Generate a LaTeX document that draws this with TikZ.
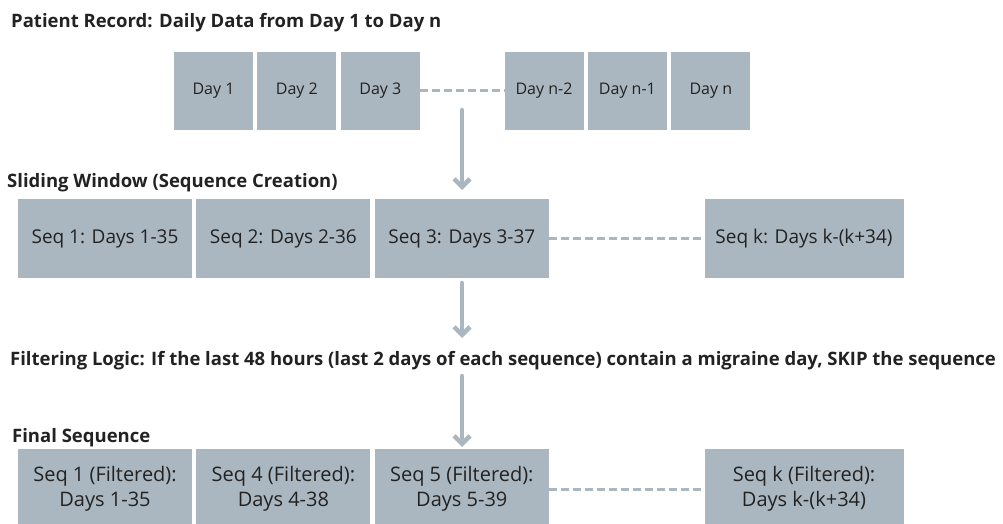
\documentclass[tikz,border=0pt]{standalone}
\usepackage{fontspec}
\setmainfont{Open Sans}
\newfontfamily\boxfont{Open Sans}
\usetikzlibrary{arrows.meta,positioning}

\definecolor{slate}{HTML}{ABB7C0}
\definecolor{ink}{HTML}{222222}

\tikzset{
  daybox/.style={fill=slate, minimum width=79pt, minimum height=78pt, inner sep=0pt,
    text=ink, font=\boxfont\fontsize{16}{19}\selectfont},
  seqbox/.style={daybox, minimum width=174pt, minimum height=79pt,
    font=\boxfont\fontsize{19}{23}\selectfont},
  finbox/.style={seqbox, minimum height=80pt, align=center,
    font=\boxfont\fontsize{20}{25}\selectfont},
  heading/.style={anchor=base west, inner sep=0pt, text=ink,
    font=\bfseries\fontsize{18.5}{22}\selectfont},
  gap/.style={slate, line width=3pt, dash pattern=on 8pt off 4pt},
  flow/.style={slate, line width=4.5pt, line cap=round, line join=round,
    -{Straight Barb[length=8pt,width=16pt]}}
}

\begin{document}
\begin{tikzpicture}[x=1pt, y=-1pt]
    \useasboundingbox (0,0) rectangle (1003,524);

    % patient record
    \node[heading] (title1) at (11,28) {Patient Record: Daily Data from Day 1 to Day n};
    \node[daybox] (d1) at (213.5,91) {Day 1};
    \node[daybox, right=4pt of d1] (d2) {Day 2};
    \node[daybox, right=4pt of d2] (d3) {Day 3};
    \node[daybox] (dn2) at (544,91) {Day n-2};
    \node[daybox, right=4pt of dn2] (dn1) {Day n-1};
    \node[daybox, right=4pt of dn1] (dn) {Day n};
    \draw[gap] (d3.east) -- (dn2.west);

    % sliding window
    \node[heading] (title2) at (7,187) {Sliding Window (Sequence Creation)};
    \node[seqbox] (s1) at (105,238.5) {Seq 1: Days 1-35};
    \node[seqbox, right=4pt of s1] (s2) {Seq 2: Days 2-36};
    \node[seqbox, right=4pt of s2] (s3) {Seq 3: Days 3-37};
    \node[seqbox, minimum width=199pt] (sk) at (804,238.5) {Seq k: Days k-(k+34)};
    \draw[gap] (s3.east) -- (sk.west);

    % filtering
    \node[heading] (filt) at (10,365) {Filtering Logic: If the last 48 hours (last 2 days of each sequence) contain a migraine day, SKIP the sequence};

    % final sequence
    \node[heading] (title3) at (12,442) {Final Sequence};
    \node[finbox] (f1) at (105,489) {Seq 1 (Filtered):\\Days 1-35};
    \node[finbox, right=4pt of f1] (f2) {Seq 4 (Filtered):\\Days 4-38};
    \node[finbox, right=4pt of f2] (f3) {Seq 5 (Filtered):\\Days 5-39};
    \node[finbox, minimum width=199pt] (fk) at (804,489) {Seq k (Filtered):\\Days k-(k+34)};
    \draw[gap] (f3.east) -- (fk.west);

    % arrows
    \coordinate (a1) at (462,110);
    \coordinate (a1e) at (462,190);
    \coordinate (a2) at (462,283);
    \coordinate (a2e) at (462,338);
    \coordinate (a3) at (462,376);
    \coordinate (a3e) at (462,447);
    \draw[flow] (a1) -- (a1e);
    \draw[flow] (a2) -- (a2e);
    \draw[flow] (a3) -- (a3e);
\end{tikzpicture}
\end{document}
